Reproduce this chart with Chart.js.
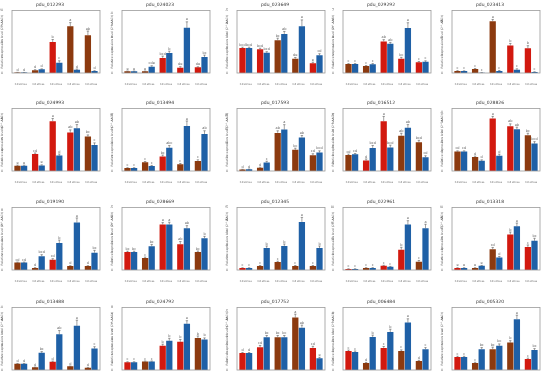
<!DOCTYPE html>
<html>
<head>
<meta charset="utf-8">
<script src="https://cdn.jsdelivr.net/npm/chart.js@4.4.0/dist/chart.umd.min.js"></script>
<style>
  html, body { margin: 0; padding: 0; background: #fff; }
  #wrap { position: relative; width: 550px; height: 377px; overflow: hidden; }
  .panel { position: absolute; width: 110px; height: 92px; }
</style>
</head>
<body>
<div id="wrap"></div>
<script>
"use strict";
const titles = [
  "pdu_012293", "pdu_024023", "pdu_023649", "pdu_029292", "pdu_023413",
  "pdu_024993", "pdu_013494", "pdu_017593", "pdu_016512", "pdu_028826",
  "pdu_019190", "pdu_028669", "pdu_012345", "pdu_022961", "pdu_013318",
  "pdu_013488", "pdu_024792", "pdu_017752", "pdu_006484", "pdu_005320"
];
const groupLabels = [
  ["Cd stress", "0 h"], ["Cd stress", "6 h"], ["Cd stress", "12 h"],
  ["Cd stress", "24 h"], ["Cd stress", "48 h"]
];
const redValues = [
  [0.15, 0.85, 9.9, 14.9, 12.1], [0.28, 0.28, 2.5, 0.89, 0.94], [1.0, 0.95, 1.31, 0.57, 0.39],
  [1.0, 0.78, 3.53, 1.6, 1.19], [1.15, 2.3, 29.8, 15.8, 14.2],
  [1, 3.2, 9.4, 7.25, 6.5], [1.07, 3.1, 5.2, 2.4, 3.6], [1.0, 2.4, 27.4, 15.2, 11.4],
  [1.0, 0.65, 3.1, 2.2, 1.79], [1, 0.71, 2.69, 2.29, 1.83],
  [1, 0.26, 1.35, 0.52, 0.52], [1, 0.67, 2.55, 1.44, 1.0], [0.8, 1.6, 3.2, 1.6, 1.6],
  [0.7, 1.3, 2.7, 13, 5.3], [1, 1, 10, 17, 11],
  [1, 0.42, 1.32, 0.58, 0.37], [1, 1.1, 3.1, 3.6, 4.1], [1, 1.35, 1.94, 3.1, 1.3],
  [1, 0.37, 1.16, 1.0, 0.47], [1, 0.54, 1.6, 2.1, 0.85]
];
const blueValues = [
  [0.12, 1.17, 3.3, 1.06, 0.64], [0.28, 1.05, 3.33, 7.5, 2.67], [1.0, 0.81, 1.56, 1.87, 0.71],
  [1.0, 0.97, 3.27, 5.02, 1.26], [1.15, 0.2, 1.15, 1.9, 0.6],
  [1, 1.06, 2.9, 8.05, 4.9], [1.07, 1.8, 8.3, 16.1, 13.2], [1.2, 6.2, 29.8, 24, 13.3],
  [1.04, 1.44, 1.46, 2.69, 0.85], [1, 0.52, 0.78, 2.14, 1.4],
  [1, 1.83, 3.57, 6.3, 2.3], [1, 1.33, 2.55, 2.33, 1.78], [0.8, 8.8, 9.6, 19.2, 8.8],
  [0.7, 1.3, 2.0, 29, 26.7], [1, 2, 6, 21, 14],
  [1, 2.74, 5.7, 7.05, 3.42], [1, 1.1, 3.75, 5.9, 3.9], [1, 1.94, 1.94, 2.5, 0.7],
  [0.95, 1.74, 2.0, 2.5, 1.1], [1, 1.6, 1.85, 3.9, 1.54]
];
const redErr = [
  [0.05, 0.2, 0.8, 1.2, 1.3], [0.05, 0.05, 0.3, 0.15, 0.1], [0.03, 0.04, 0.08, 0.05, 0.04],
  [0.05, 0.05, 0.2, 0.15, 0.1], [0.2, 0.3, 1.0, 1.2, 1.5],
  [0.1, 0.2, 0.5, 0.5, 0.3], [0.1, 0.3, 0.5, 0.3, 0.4], [0.2, 0.3, 1.5, 1.2, 1.0],
  [0.05, 0.1, 0.3, 0.15, 0.12], [0.03, 0.05, 0.1, 0.12, 0.1],
  [0.05, 0.05, 0.15, 0.05, 0.05], [0.05, 0.05, 0.1, 0.15, 0.06], [0.1, 0.2, 0.3, 0.2, 0.2],
  [0.1, 0.2, 0.3, 1.5, 0.8], [0.1, 0.1, 0.8, 1.2, 1.0],
  [0.05, 0.05, 0.1, 0.05, 0.05], [0.05, 0.05, 0.2, 0.3, 0.25], [0.03, 0.1, 0.1, 0.2, 0.1],
  [0.05, 0.03, 0.08, 0.06, 0.04], [0.05, 0.05, 0.15, 0.15, 0.06]
];
const blueErr = [
  [0.05, 0.15, 0.6, 0.2, 0.1], [0.05, 0.15, 0.3, 1.0, 0.3], [0.03, 0.04, 0.1, 0.25, 0.06],
  [0.05, 0.08, 0.15, 0.6, 0.1], [0.1, 0.05, 0.3, 0.5, 0.1],
  [0.1, 0.1, 0.3, 0.7, 0.4], [0.1, 0.2, 0.8, 1.8, 1.2], [0.2, 0.8, 3.5, 1.5, 1.2],
  [0.05, 0.15, 0.15, 0.2, 0.1], [0.03, 0.05, 0.08, 0.1, 0.1],
  [0.05, 0.2, 0.4, 0.6, 0.3], [0.05, 0.1, 0.12, 0.15, 0.1], [0.1, 0.8, 0.8, 1.8, 0.8],
  [0.1, 0.2, 0.3, 2.5, 2.5], [0.1, 0.2, 0.5, 1.5, 1.2],
  [0.05, 0.2, 0.6, 0.9, 0.3], [0.05, 0.05, 0.3, 0.4, 0.2], [0.03, 0.1, 0.1, 0.15, 0.05],
  [0.05, 0.1, 0.15, 0.2, 0.08], [0.05, 0.12, 0.15, 0.3, 0.1]
];
const redLetters = [
  ["d", "d", "b", "a", "ab"], ["e", "e", "bcd", "de", "de"], ["bcd", "bcd", "bc", "de", "e"],
  ["c", "c", "ab", "bc", "c"], ["c", "c", "a", "b", "b"],
  ["e", "cd", "a", "ab", "bc"], ["c", "c", "bc", "c", "c"], ["d", "d", "ab", "bc", "cd"],
  ["cd", "d", "a", "ab", "bcd"], ["cd", "d", "a", "ab", "bc"],
  ["cd", "d", "cd", "d", "d"], ["bc", "c", "a", "ab", "bc"], ["c", "c", "c", "c", "c"],
  ["c", "c", "c", "b", "c"], ["e", "e", "cd", "b", "c"],
  ["d", "d", "d", "d", "d"], ["c", "c", "b", "b", "b"], ["d", "cd", "bc", "a", "cd"],
  ["c", "d", "c", "c", "d"], ["c", "c", "bc", "b", "c"]
];
const blueLetters = [
  ["d", "d", "c", "d", "d"], ["e", "cde", "b", "a", "bc"], ["bcd", "bcd", "ab", "a", "cd"],
  ["c", "c", "ab", "a", "c"], ["c", "c", "c", "c", "c"],
  ["e", "e", "d", "ab", "c"], ["c", "c", "abc", "a", "ab"], ["d", "c", "a", "ab", "bcd"],
  ["cd", "bcd", "bcd", "ab", "cd"], ["cd", "d", "d", "ab", "bcd"],
  ["cd", "bcd", "b", "a", "bc"], ["bc", "bc", "a", "ab", "b"], ["c", "b", "b", "a", "b"],
  ["c", "c", "c", "a", "a"], ["e", "e", "d", "a", "bc"],
  ["d", "bc", "ab", "a", "c"], ["c", "c", "b", "a", "b"], ["d", "bc", "bc", "ab", "e"],
  ["c", "b", "b", "a", "c"], ["c", "bc", "bc", "a", "bc"]
];
// r = bright red bar, b = brown bar
const redShades = [
  "bbrbb", "bbrrr", "rrbbr", "bbrrr", "bbbrr",
  "brrrb", "bbrbb", "bbbbb", "brrbb", "bbrrb",
  "bbrbb", "rbrrb", "rbbbb", "rbrrb", "rbbrr",
  "bbrbb", "rbrrb", "rrbbr", "rbrbb", "rbbbr"
];
const yMax = [20, 10.4, 2.5, 7, 36, 11.8, 22.4, 45, 3.9, 3.2, 8.3, 3.5, 25, 40, 30, 10, 8, 3.7, 3.3, 4.8];
const yStep = [5, 2, 0.5, 1, 10, 2, 5, 5, 0.5, 0.5, 2, 0.5, 5, 10, 5, 2, 1, 0.5, 0.5, 1];

const colLeft = [0, 110, 225, 331, 440];
const rowTop = [0, 98, 197, 297];
const RED = "#d2190f";
const BROWN = "#8c3a0f";
const BLUE = "#1f60a6";

const extras = {
  id: "extras",
  afterDatasetsDraw(chart) {
    const { ctx, chartArea: a, scales: { y } } = chart;
    ctx.save();
    chart.data.datasets.forEach((ds, di) => {
      const meta = chart.getDatasetMeta(di);
      meta.data.forEach((bar, i) => {
        const top = y.getPixelForValue(ds.data[i] + ds.err[i]);
        ctx.strokeStyle = "#444";
        ctx.lineWidth = 0.5;
        ctx.beginPath();
        ctx.moveTo(bar.x, bar.y);
        ctx.lineTo(bar.x, top);
        ctx.moveTo(bar.x - 1.2, top);
        ctx.lineTo(bar.x + 1.2, top);
        ctx.stroke();
        ctx.fillStyle = "#666";
        ctx.font = "3.5px 'DejaVu Sans'";
        ctx.textAlign = "center";
        ctx.textBaseline = "bottom";
        ctx.fillText(ds.letters[i], bar.x, top - 0.6);
      });
    });
    ctx.strokeStyle = "#9a9a9a";
    ctx.lineWidth = 0.8;
    ctx.strokeRect(a.left, a.top, a.right - a.left, a.bottom - a.top);
    ctx.restore();
  }
};

const wrap = document.querySelector("#wrap");
titles.forEach((title, k) => {
  const div = document.createElement("div");
  div.className = "panel";
  div.style.left = colLeft[k % 5] + "px";
  div.style.top = rowTop[Math.floor(k / 5)] + "px";
  const canvas = document.createElement("canvas");
  div.appendChild(canvas);
  wrap.appendChild(div);

  new Chart(canvas.getContext("2d"), {
    type: "bar",
    data: {
      labels: groupLabels,
      datasets: [
        {
          data: redValues[k],
          err: redErr[k],
          letters: redLetters[k],
          backgroundColor: redShades[k].split("").map((c) => (c === "r" ? RED : BROWN)),
          borderWidth: 0,
          categoryPercentage: 0.75,
          barPercentage: 0.95,
        },
        {
          data: blueValues[k],
          err: blueErr[k],
          letters: blueLetters[k],
          backgroundColor: BLUE,
          borderWidth: 0,
          categoryPercentage: 0.75,
          barPercentage: 0.95,
        },
      ],
    },
    options: {
      responsive: true,
      maintainAspectRatio: false,
      animation: false,
      devicePixelRatio: 1,
      layout: { padding: { left: 0, right: 10, top: 0, bottom: 7 } },
      plugins: {
        legend: { display: false },
        tooltip: { enabled: false },
        title: {
          display: true,
          text: title,
          color: "#333",
          font: { size: 4.5, family: "'DejaVu Sans'", weight: "normal" },
          padding: { top: 2.5, bottom: 2.5 },
        },
      },
      scales: {
        x: {
          grid: { display: false },
          border: { display: false },
          ticks: {
            font: { size: 2.6, family: "'DejaVu Sans'", lineHeight: 1.6 },
            color: "#666",
            maxRotation: 0,
            autoSkip: false,
            padding: 1,
          },
          afterFit: (scale) => { scale.height = 12; },
        },
        y: {
          min: 0,
          max: yMax[k],
          grid: { display: false },
          border: { display: false },
          ticks: {
            stepSize: yStep[k],
            includeBounds: false,
            font: { size: 3.3, family: "'DejaVu Sans'" },
            color: "#555",
            padding: 1,
          },
          title: {
            display: true,
            text: "Relative expression level (2^-ΔΔCt)",
            font: { size: 3, family: "'DejaVu Sans'" },
            color: "#555",
            padding: 0,
          },
          afterFit: (scale) => { scale.width = 12; },
        },
      },
    },
    plugins: [extras],
  });
});
</script>
</body>
</html>
